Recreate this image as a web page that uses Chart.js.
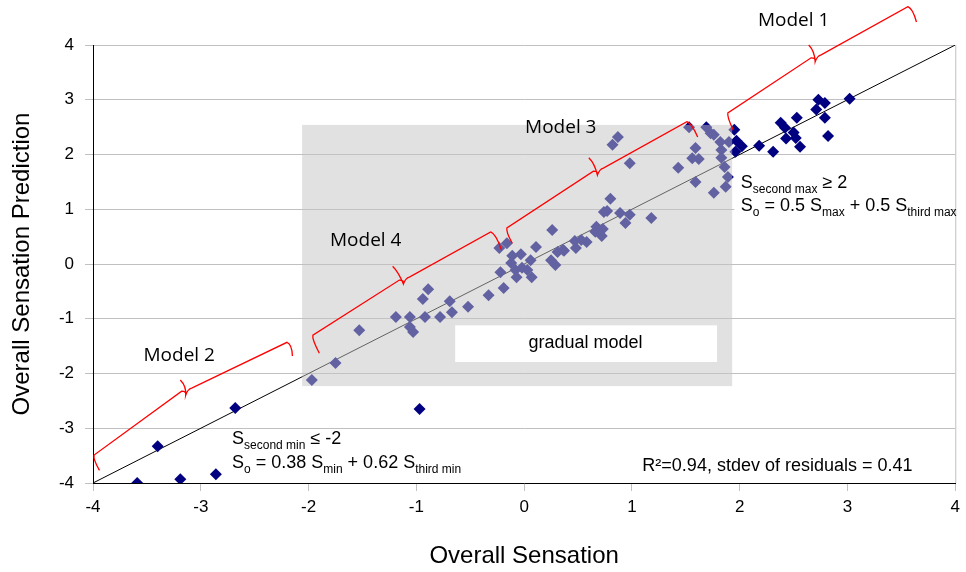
<!DOCTYPE html>
<html>
<head>
<meta charset="utf-8">
<script src="https://cdn.jsdelivr.net/npm/chart.js@4.4.0/dist/chart.umd.min.js"></script>
<style>
  body { margin: 0; background: #fff; }
  #wrap { width: 966px; height: 572px; }
</style>
</head>
<body>
<div id="wrap"><canvas id="chart" width="966" height="572"></canvas></div>
<script>
// measured sensation (x) vs predicted sensation (y)
var sensationX = [
  -3.59, -3.40, -3.19, -2.86, -2.68, -0.97,
  -1.97, -1.75, -1.53, -1.19, -1.06, -1.06, -1.03, -0.92, -0.94, -0.89, -0.78, -0.67, -0.69, -0.52, -0.33, -0.19,
  -0.23, -0.16, 0.11, -0.11, -0.03, 0.06, -0.12, -0.22, -0.08, -0.02, -0.07, 0.03, 0.07, 0.25, 0.29, 0.31, 0.37, 0.26,
  0.47, 0.53, 0.58, 0.48, 0.36, 0.67, 0.73, 0.72, 0.66,
  0.80, 0.74, 0.77, 0.89, 0.98, 0.94, 1.18, 0.82, 0.87, 0.98,
  1.43, 1.53, 1.69, 1.73, 1.76, 1.59, 1.56, 1.62, 1.59, 1.76, 1.82, 1.83, 1.83, 1.86, 1.89, 1.87, 1.90,
  1.95, 1.97, 2.02, 1.96, 2.18, 2.31, 2.38, 2.42, 2.43, 2.50, 2.53, 2.56, 2.52, 2.73, 2.79, 2.71, 2.79, 2.82, 3.02
];
var predictionY = [
  -4.00, -3.33, -3.93, -3.84, -2.63, -2.65,
  -2.12, -1.81, -1.21, -0.97, -0.97, -1.15, -1.24, -0.97, -0.64, -0.46, -0.97, -0.88, -0.68, -0.78, -0.57, -0.44,
  0.29, 0.38, 0.31, 0.15, 0.18, 0.07, 0.02, -0.15, -0.11, -0.07, -0.24, -0.11, -0.24, 0.07, -0.02, 0.22, 0.24, 0.62,
  0.42, 0.44, 0.40, 0.29, 0.26, 0.68, 0.64, 0.51, 0.59,
  1.19, 0.95, 0.97, 0.93, 0.90, 0.75, 0.84, 2.18, 2.32, 1.84,
  1.76, 2.50, 2.50, 2.39, 2.36, 2.12, 1.93, 1.92, 1.50, 1.30, 2.23, 2.08, 1.94, 1.77, 1.59, 1.41, 2.23,
  2.45, 2.25, 2.15, 2.05, 2.16, 2.05, 2.58, 2.49, 2.29, 2.40, 2.67, 2.14, 2.30, 3.00, 2.94, 2.82, 2.67, 2.34, 3.02
];
var axisTicks = [-4, -3, -2, -1, 0, 1, 2, 3, 4];

// annotation geometry in data units: [corner, hook, mid, notch, corner, hook]
var modelBrackets = [
  [[-3.99, -3.49], [-3.94, -3.77], [-3.14, -2.36], [-3.19, -2.12], [-2.20, -1.43], [-2.15, -1.68]],
  [[-1.96, -1.30], [-1.90, -1.63], [-1.12, -0.33], [-1.22, -0.04], [-0.31, 0.585], [-0.21, 0.26]],
  [[-0.16, 0.66], [-0.11, 0.38], [0.68, 1.66], [0.60, 1.94], [1.51, 2.60], [1.61, 2.32]],
  [[1.89, 2.76], [1.94, 2.45], [2.70, 3.73], [2.64, 4.00], [3.56, 4.70], [3.64, 4.42]]
];
var modelLabels = ["Model 2", "Model 4", "Model 3", "Model 1"];
var modelLabelPos = [[-3.20, -1.78], [-1.47, 0.33], [0.34, 2.39], [2.50, 4.35]];
var gradualBox = [-2.06, 1.93, 2.54, -2.23];

var points = sensationX.map(function(x, i) { return {x: x, y: predictionY[i]}; });
var SANS = "'Liberation Sans', Arial, sans-serif";

function drawRich(ctx, parts, x, y) {
  // parts: [text, size, sub?]
  parts.forEach(function(p) {
    ctx.font = p[1] + "px " + SANS;
    ctx.fillText(p[0], x, p[2] ? y + 5 : y);
    x += ctx.measureText(p[0]).width;
  });
}

var overlayPlugin = {
  id: "overlay",
  afterDatasetsDraw: function(chart) {
    var ctx = chart.ctx;
    var xs = chart.scales.x, ys = chart.scales.y;
    var px = function(v) { return xs.getPixelForValue(v); };
    var py = function(v) { return ys.getPixelForValue(v); };
    ctx.save();

    // right border
    ctx.strokeStyle = "#c0c0c0";
    ctx.lineWidth = 1;
    ctx.beginPath();
    ctx.moveTo(px(4) + 0.5, py(4));
    ctx.lineTo(px(4) + 0.5, py(-4));
    ctx.stroke();

    // gradual model shaded area
    ctx.fillStyle = "rgba(195,195,195,0.5)";
    ctx.fillRect(px(gradualBox[0]), py(gradualBox[2]), px(gradualBox[1]) - px(gradualBox[0]), py(gradualBox[3]) - py(gradualBox[2]));

    // white label boxes
    ctx.fillStyle = "#fff";
    ctx.fillRect(px(-0.64), py(-1.12), px(1.79) - px(-0.64), py(-1.79) - py(-1.12));
    ctx.fillRect(px(1.95), py(1.9), px(3.95) - px(1.95), py(0.8) - py(1.9));

    ctx.fillStyle = "#000";
    ctx.textAlign = "center";
    ctx.textBaseline = "middle";
    ctx.font = "18px " + SANS;
    ctx.fillText("gradual model", px(0.57), py(-1.44));
    ctx.fillText("R\u00b2=0.94, stdev of residuals = 0.41", px(2.35), py(-3.69));

    // brackets
    ctx.strokeStyle = "#ff0000";
    ctx.lineWidth = 1.3;
    modelBrackets.forEach(function(b) {
      ctx.beginPath();
      ctx.moveTo(px(b[1][0]), py(b[1][1]));
      ctx.quadraticCurveTo(px(b[0][0]) - 1, py(b[0][1]) + 4, px(b[0][0]), py(b[0][1]));
      ctx.lineTo(px(b[2][0]) - 4, py(b[2][1]) - 2);
      ctx.quadraticCurveTo(px(b[2][0]) + 1, py(b[2][1]) - 2, px(b[2][0]), py(b[2][1]) + 2);
      ctx.moveTo(px(b[3][0]), py(b[3][1]));
      ctx.quadraticCurveTo(px(b[3][0]) + 6, py(b[3][1]) + 6, px(b[2][0]), py(b[2][1]) + 2);
      ctx.quadraticCurveTo(px(b[2][0]) + 2, py(b[2][1]) - 4, px(b[2][0]) + 6, py(b[2][1]) - 5);
      ctx.lineTo(px(b[4][0]), py(b[4][1]));
      ctx.quadraticCurveTo(px(b[4][0]) + 5, py(b[4][1]) + 2, px(b[5][0]), py(b[5][1]));
      ctx.stroke();
    });

    // model names
    ctx.textBaseline = "alphabetic";
    ctx.font = "19px 'Open Sans', sans-serif";
    modelLabels.forEach(function(t, i) {
      ctx.fillText(t, px(modelLabelPos[i][0]), py(modelLabelPos[i][1]));
    });

    // rule texts
    ctx.textAlign = "left";
    drawRich(ctx, [["S", 18], ["second max", 12, true], [" \u2265 2", 18]], px(2.01), py(1.39));
    drawRich(ctx, [["S", 18], ["o", 12, true], [" = 0.5 S", 18], ["max", 12, true], [" + 0.5 S", 18], ["third max", 12, true]], px(2.01), py(0.97));
    drawRich(ctx, [["S", 18], ["second min", 12, true], [" \u2264 -2", 18]], px(-2.71), py(-3.29));
    drawRich(ctx, [["S", 18], ["o", 12, true], [" = 0.38 S", 18], ["min", 12, true], [" + 0.62 S", 18], ["third min", 12, true]], px(-2.71), py(-3.73));
    ctx.restore();
  }
};

new Chart(document.getElementById("chart"), {
  type: "scatter",
  data: {
    datasets: [
      {
        label: "Prediction",
        data: points,
        pointStyle: "rectRot",
        pointRadius: 6,
        pointHoverRadius: 6,
        pointBorderWidth: 0,
        backgroundColor: "#000080",
        borderColor: "#000080"
      },
      {
        type: "line",
        label: "1:1",
        data: [{x: axisTicks[0], y: axisTicks[0]}, {x: axisTicks[8], y: axisTicks[8]}],
        borderColor: "#000",
        borderWidth: 1,
        pointRadius: 0
      }
    ]
  },
  options: {
    responsive: false,
    animation: false,
    events: [],
    layout: { padding: { top: 45, right: 9, left: 0, bottom: 0 } },
    plugins: { legend: { display: false }, tooltip: { enabled: false } },
    scales: {
      x: {
        type: "linear",
        min: -4, max: 4,
        afterBuildTicks: function(s) { s.ticks = axisTicks.map(function(v) { return {value: v}; }); },
        afterFit: function(s) { s.height = 89; },
        ticks: { color: "#000", font: { size: 17, family: SANS }, padding: 6 },
        grid: { drawOnChartArea: false, tickLength: 8, color: "#c0c0c0" },
        border: { color: "#000", width: 1 },
        title: { display: true, text: "Overall Sensation", color: "#000", font: { size: 24, family: SANS }, padding: { top: 0, bottom: 1 } }
      },
      y: {
        min: -4, max: 4,
        afterBuildTicks: function(s) { s.ticks = axisTicks.map(function(v) { return {value: v}; }); },
        afterFit: function(s) { s.width = 93; },
        ticks: { color: "#000", font: { size: 17, family: SANS }, padding: 11 },
        grid: { tickLength: 8, color: "#c0c0c0" },
        border: { color: "#000", width: 1 },
        title: { display: true, text: "Overall Sensation Prediction", color: "#000", font: { size: 24, family: SANS }, padding: { top: 8, bottom: 0 } }
      }
    }
  },
  plugins: [overlayPlugin]
});
</script>
</body>
</html>
